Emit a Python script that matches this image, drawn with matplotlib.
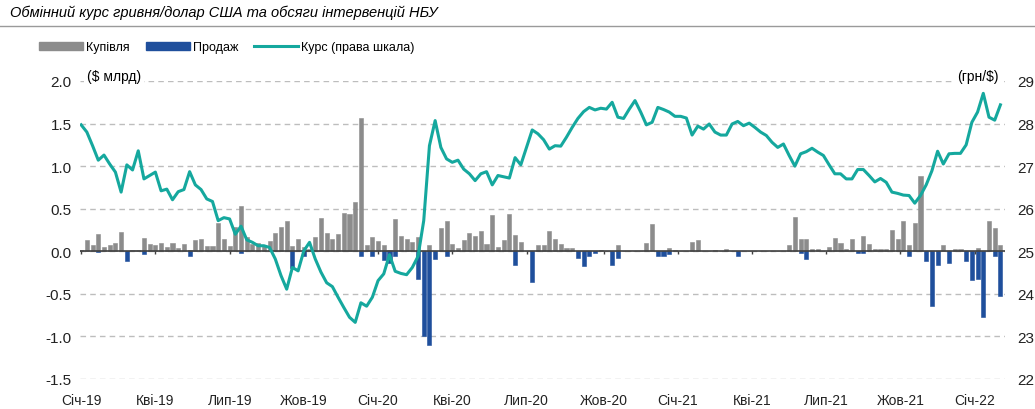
import numpy as np
import matplotlib
matplotlib.use("Agg")
import matplotlib.pyplot as plt
from matplotlib.patches import Patch
from matplotlib.lines import Line2D

# weekly NBU interventions, $ bn (Jan 2019 .. Feb 2022)
buy = [0.02, 0.13, 0.07, 0.20, 0.05, 0.07, 0.10, 0.23, 0.00, 0.02,
       0.02, 0.16, 0.08, 0.07, 0.10, 0.05, 0.10, 0.04, 0.09, 0.02,
       0.13, 0.15, 0.06, 0.06, 0.33, 0.15, 0.06, 0.29, 0.53, 0.17,
       0.08, 0.10, 0.06, 0.12, 0.22, 0.28, 0.36, 0.06, 0.15, 0.05,
       0.03, 0.17, 0.39, 0.21, 0.15, 0.20, 0.45, 0.44, 0.58, 1.57,
       0.07, 0.17, 0.12, 0.07, 0.02, 0.38, 0.18, 0.15, 0.11, 0.17,
       0.00, 0.07, 0.00, 0.27, 0.35, 0.09, 0.04, 0.13, 0.22, 0.18,
       0.24, 0.09, 0.43, 0.05, 0.13, 0.44, 0.19, 0.11, 0.00, 0.00,
       0.07, 0.07, 0.24, 0.15, 0.09, 0.035, 0.04, 0.00, 0.00, 0.00,
       0.00, 0.02, 0.00, 0.00, 0.07, 0.00, 0.00, 0.00, 0.00, 0.10,
       0.32, 0.00, 0.00, 0.04, 0.02, 0.00, 0.00, 0.11, 0.13, 0.00,
       0.00, 0.02, 0.00, 0.03, 0.00, 0.00, 0.00, 0.00, 0.00, 0.00,
       0.00, 0.00, 0.00, 0.00, 0.07, 0.40, 0.14, 0.15, 0.03, 0.03,
       0.00, 0.05, 0.16, 0.10, 0.03, 0.14, 0.00, 0.18, 0.09, 0.03,
       0.03, 0.03, 0.25, 0.14, 0.36, 0.07, 0.33, 0.88, 0.00, 0.00,
       0.00, 0.07, 0.00, 0.03, 0.03, 0.00, 0.00, 0.04, 0.00, 0.35,
       0.27, 0.07]

# sales by week index
sell_idx = [3, 8, 11, 19, 28, 37, 39, 49, 51, 53, 54, 55, 59, 60, 61, 62, 64,
            76, 79, 87, 88, 89, 90, 93, 94, 101, 102, 103, 115, 126, 127,
            136, 137, 145, 148, 149, 150, 152, 155, 156, 157, 158, 160, 161]
sell_val = [-0.01, -0.12, -0.03, -0.05, -0.02, -0.20, -0.05, -0.05, -0.05,
            -0.10, -0.14, -0.05, -0.32, -1.00, -1.10, -0.09, -0.05, -0.16,
            -0.36, -0.08, -0.17, -0.06, -0.02, -0.16, -0.08, -0.05, -0.05,
            -0.03, -0.06, -0.02, -0.09, -0.02, -0.02, -0.06, -0.12, -0.64,
            -0.16, -0.14, -0.11, -0.34, -0.33, -0.77, -0.06, -0.52]

# UAH/USD rate, right scale
rate = [27.97, 27.80, 27.48, 27.14, 27.26, 27.05, 26.86, 26.39, 27.03, 26.91,
        27.36, 26.70, 26.78, 26.86, 26.42, 26.46, 26.21, 26.40, 26.45, 26.87,
        26.56, 26.45, 26.23, 26.17, 25.72, 25.79, 25.76, 25.40, 25.59, 25.27,
        25.21, 25.13, 25.13, 25.09, 24.82, 24.43, 24.11, 24.62, 24.54, 25.01,
        25.21, 24.82, 24.51, 24.26, 24.17, 23.92, 23.68, 23.45, 23.33, 23.79,
        23.71, 23.92, 24.31, 24.47, 24.92, 24.53, 24.48, 24.45, 24.62, 24.88,
        25.72, 27.48, 28.07, 27.44, 27.17, 27.09, 27.14, 26.93, 26.82, 26.66,
        26.82, 26.87, 26.56, 26.78, 26.75, 26.72, 27.20, 27.03, 27.44, 27.85,
        27.76, 27.62, 27.40, 27.48, 27.47, 27.68, 27.91, 28.12, 28.28, 28.38,
        28.32, 28.36, 28.34, 28.50, 28.15, 28.12, 28.34, 28.54, 28.27, 27.97,
        28.03, 28.38, 28.33, 28.27, 28.17, 28.17, 28.13, 27.73, 27.94, 27.87,
        27.99, 27.80, 27.73, 27.73, 27.99, 28.05, 27.95, 28.01, 27.91, 27.80,
        27.72, 27.56, 27.44, 27.52, 27.25, 27.00, 27.29, 27.34, 27.42, 27.33,
        27.25, 27.03, 26.82, 26.82, 26.70, 26.70, 26.92, 26.92, 26.78, 26.63,
        26.71, 26.62, 26.39, 26.36, 26.32, 26.31, 26.13, 26.31, 26.56, 26.89,
        27.35, 27.05, 27.29, 27.30, 27.30, 27.50, 28.03, 28.27, 28.71, 28.15,
        28.08, 28.44]

tick_pos = [0, 13, 26, 39, 52, 65, 78, 91.5, 104.5, 117.5, 130.5, 143.5, 156.5]
tick_lbl = ["Січ-19", "Кві-19", "Лип-19", "Жов-19", "Січ-20", "Кві-20", "Лип-20",
            "Жов-20", "Січ-21", "Кві-21", "Лип-21", "Жов-21", "Січ-22"]

plt.rcParams["font.family"] = ["Liberation Sans", "DejaVu Sans"]

gray = "#8c8c8c"
blue = "#1f4f9c"
teal = "#15a89e"

x = np.arange(len(buy))

fig = plt.figure(figsize=(10.35, 4.10), dpi=100)
ax = fig.add_axes([0.0773, 0.0732, 0.8937, 0.7268])

ax.bar(x, buy, width=0.72, color=gray, edgecolor=gray, linewidth=0.4, zorder=2)
ax.bar(sell_idx, sell_val, width=0.72, color=blue, edgecolor=blue, linewidth=0.4, zorder=2)
ax.axhline(0, color="#404040", lw=1.2, zorder=3)
ax.vlines(tick_pos, -0.03, 0, color="#404040", lw=1, zorder=3)

ax.set_xlim(-0.2, 161.8)
ax.set_ylim(-1.5, 2.0)
ax.set_yticks(np.arange(-1.5, 2.01, 0.5))
ax.set_yticklabels([f"{v:.1f}" for v in np.arange(-1.5, 2.01, 0.5)])
ax.grid(axis="y", color="#bdbdbd", ls=(0, (4, 3)), lw=1, zorder=0)
ax.set_xticks(tick_pos)
ax.set_xticklabels(tick_lbl)
ax.tick_params(axis="x", length=0, pad=10, labelsize=10, colors="#222222")
ax.tick_params(axis="y", length=0, pad=6, labelsize=11, colors="#222222")
for s in ax.spines.values():
    s.set_visible(False)

ax2 = ax.twinx()
ax2.plot(x, rate, color=teal, lw=2.2, zorder=4)
ax2.set_ylim(22, 29)
ax2.set_yticks(range(22, 30))
ax2.tick_params(axis="y", length=0, pad=9, labelsize=11, colors="#222222")
for s in ax2.spines.values():
    s.set_visible(False)

ax.text(1.0, 2.06, "($ млрд)", fontsize=10, ha="left", va="center",
        bbox=dict(facecolor="white", edgecolor="none", pad=2), zorder=5)
ax2.text(153.5, 29.12, "(грн/$)", fontsize=10, ha="left", va="center",
         bbox=dict(facecolor="white", edgecolor="none", pad=2), zorder=5)

fig.text(0.01, 0.97, "Обмінний курс гривня/долар США та обсяги інтервенцій НБУ",
         fontsize=10.5, style="italic", ha="left", va="center")
fig.add_artist(Line2D([0, 1], [0.934, 0.934], color="#9a9a9a", lw=1))

handles = [Patch(facecolor=gray, edgecolor=gray), Patch(facecolor=blue, edgecolor=blue),
           Line2D([], [], color=teal, lw=2.2)]
fig.legend(handles, ["Купівля", "Продаж", "Курс (права шкала)"], ncol=3,
           loc="center left", bbox_to_anchor=(0.027, 0.882), frameon=False,
           prop={"size": 9}, handlelength=3.5, handleheight=0.55,
           handletextpad=0.25, columnspacing=1.3)

fig.savefig("out.png", dpi=100)
